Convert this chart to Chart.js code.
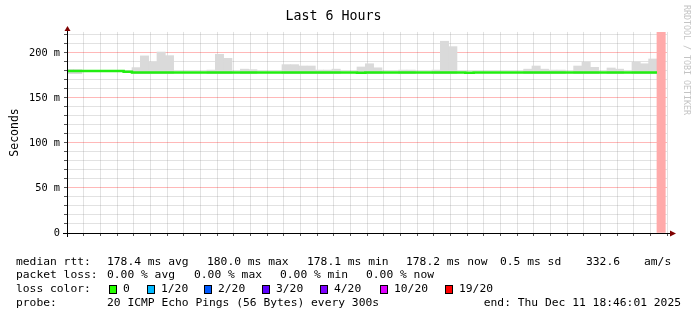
<!DOCTYPE html>
<html>
<head>
<meta charset="utf-8">
<script src="https://cdn.jsdelivr.net/npm/chart.js@4/dist/chart.umd.min.js"></script>
<style>
  html, body { margin: 0; padding: 0; background: #fff; }
  canvas { display: block; }
</style>
</head>
<body>
<canvas id="pingChart" width="697" height="321"></canvas>
<script>
// 5 minute bins (start of each bin)
const binTimes = [
  '12:45', '12:50', '12:55', '13:00', '13:05', '13:10', '13:15', '13:20', '13:25', '13:30', '13:35', '13:40',
  '13:45', '13:50', '13:55', '14:00', '14:05', '14:10', '14:15', '14:20', '14:25', '14:30', '14:35', '14:40',
  '14:45', '14:50', '14:55', '15:00', '15:05', '15:10', '15:15', '15:20', '15:25', '15:30', '15:35', '15:40',
  '15:45', '15:50', '15:55', '16:00', '16:05', '16:10', '16:15', '16:20', '16:25', '16:30', '16:35', '16:40',
  '16:45', '16:50', '16:55', '17:00', '17:05', '17:10', '17:15', '17:20', '17:25', '17:30', '17:35', '17:40',
  '17:45', '17:50', '17:55', '18:00', '18:05', '18:10', '18:15', '18:20', '18:25', '18:30', '18:35', '18:40'
];

// median rtt in ms
const medianRtt = [
  180.0, 180.0, 180.0, 180.0, 180.0, 180.0, 180.0, 179.2, 178.2, 178.2, 178.2, 178.2,
  178.2, 178.2, 178.2, 178.2, 178.2, 178.2, 178.2, 178.2, 178.2, 178.2, 178.2, 178.2,
  178.2, 178.2, 178.2, 178.2, 178.2, 178.2, 178.2, 178.2, 178.2, 178.2, 178.2, 178.1,
  178.2, 178.2, 178.2, 178.2, 178.2, 178.2, 178.2, 178.2, 178.2, 178.2, 178.2, 178.2,
  178.1, 178.2, 178.2, 178.2, 178.2, 178.2, 178.2, 178.2, 178.2, 178.2, 178.2, 178.2,
  178.2, 178.2, 178.2, 178.2, 178.2, 178.2, 178.2, 178.2, 178.2, 178.2, 178.2, null
];

// top of the smoke (slowest ping) in ms, null = nothing above the median
const smokeTop = [
  181.5, 181.5, null, null, null, null, null, null, 183.7, 196.7, 190.0, 201.0,
  197.0, null, null, null, null, 181.0, 198.5, 194.0, null, 182.0, 181.5, null,
  null, null, 187.0, 187.0, 185.5, 185.5, 181.0, 181.0, 182.0, null, null, 184.4,
  188.0, 183.5, null, null, 181.0, 181.0, null, null, 181.0, 213.0, 207.0, null,
  null, null, null, null, null, null, null, 182.0, 185.5, 182.0, 181.0, 181.0,
  null, 185.5, 190.0, 184.0, null, 183.3, 182.0, null, 190.0, 188.0, 193.3, null
];
const smokeFloor = 177;

const unknownBins = ['18:40'];

const rangeStart = '12:46:01';
const rangeEnd = '18:46:01';
const yMax = 223.3;

const statsRtt = ['median rtt:', '178.4 ms avg', '180.0 ms max', '178.1 ms min', '178.2 ms now', '0.5 ms sd', '332.6', 'am/s'];
const statsLoss = ['packet loss:', '0.00 % avg', '0.00 % max', '0.00 % min', '0.00 % now'];
const lossLabels = ['0', '1/20', '2/20', '3/20', '4/20', '10/20', '19/20'];
const lossColors = ['#26ff00', '#00b8ff', '#0059ff', '#5e00ff', '#7e00ff', '#dd00ff', '#ff0000'];
const probeText = ['probe:', '20 ICMP Echo Pings (56 Bytes) every 300s', 'end: Thu Dec 11 18:46:01 2025'];

const MONO = 'DejaVu Sans Mono';
const MGRID = 'rgba(255, 0, 0, 0.28)';
const GRID = 'rgba(140, 140, 140, 0.25)';
const BIN = 5;

function toMin(s) {
  const p = s.split(':').map(Number);
  return p[0] * 60 + p[1] + (p[2] || 0) / 60;
}
function fmtHour(v) {
  const h = Math.floor(v / 60), m = Math.round(v % 60);
  return String(h).padStart(2, '0') + ':' + String(m).padStart(2, '0');
}

const smokeData = [];
const lineData = [];
binTimes.forEach((t, i) => {
  const x = toMin(t);
  if (smokeTop[i] != null) smokeData.push({ x: x + BIN / 2, y: [smokeFloor, smokeTop[i]] });
  if (medianRtt[i] != null) lineData.push({ x: x, y: medianRtt[i] });
});
const lastPt = lineData[lineData.length - 1];
lineData.push({ x: lastPt.x + BIN, y: lastPt.y });

const unknownData = unknownBins.map(t => ({ x: toMin(t) + BIN / 2, y: [0, yMax] }));

const extras = {
  id: 'extras',
  afterDraw(chart) {
    const ctx = chart.ctx;
    const a = chart.chartArea;
    ctx.save();

    // axis extensions and arrows
    ctx.strokeStyle = '#000';
    ctx.lineWidth = 1;
    ctx.beginPath();
    ctx.moveTo(a.left - 4, a.bottom + 0.5); ctx.lineTo(a.right + 4, a.bottom + 0.5);
    ctx.moveTo(a.left + 0.5, a.bottom + 4); ctx.lineTo(a.left + 0.5, a.top - 2);
    ctx.stroke();
    ctx.fillStyle = '#7f0000';
    ctx.beginPath();
    ctx.moveTo(a.left + 0.5, a.top - 6); ctx.lineTo(a.left - 2.5, a.top - 1); ctx.lineTo(a.left + 3.5, a.top - 1);
    ctx.closePath(); ctx.fill();
    ctx.beginPath();
    ctx.moveTo(a.right + 9, a.bottom + 0.5); ctx.lineTo(a.right + 3, a.bottom - 2.5); ctx.lineTo(a.right + 3, a.bottom + 3.5);
    ctx.closePath(); ctx.fill();

    // watermark
    ctx.save();
    ctx.translate(686, 5);
    ctx.rotate(Math.PI / 2);
    ctx.font = '8.3px "' + MONO + '"';
    ctx.fillStyle = '#c4c4c4';
    ctx.textBaseline = 'middle';
    ctx.fillText('RRDTOOL / TOBI OETIKER', 0, 0);
    ctx.restore();

    // legend block
    ctx.font = '11.3px "' + MONO + '"';
    ctx.fillStyle = '#000';
    ctx.textBaseline = 'middle';
    const rttX = [16, 107, 207, 307, 406, 500, 586, 644];
    statsRtt.forEach((s, i) => ctx.fillText(s, rttX[i], 262));
    const lossX = [16, 107, 194, 280, 366];
    statsLoss.forEach((s, i) => ctx.fillText(s, lossX[i], 275.5));
    ctx.fillText('loss color:', 16, 289.5);
    const boxX = [109, 147, 204, 262, 320, 380, 445];
    lossLabels.forEach((s, i) => {
      ctx.fillStyle = lossColors[i];
      ctx.fillRect(boxX[i], 285.5, 7, 8);
      ctx.strokeStyle = '#000';
      ctx.strokeRect(boxX[i] + 0.5, 285.5, 7, 8);
      ctx.fillStyle = '#000';
      ctx.fillText(s, boxX[i] + 14, 289.5);
    });
    ctx.fillText(probeText[0], 16, 303);
    ctx.fillText(probeText[1], 107, 303);
    ctx.textAlign = 'right';
    ctx.fillText(probeText[2], 681, 303);
    ctx.restore();
  }
};

const gridColor = (ctx) => (ctx.tick && ctx.tick.value % 50 === 0 ? MGRID : GRID);
const xGridColor = (ctx) => (ctx.tick && ctx.tick.value % 60 === 0 ? MGRID : GRID);

new Chart(document.getElementById('pingChart'), {
  data: {
    datasets: [
      {
        type: 'line',
        label: 'median rtt',
        data: lineData,
        borderColor: '#22ee11',
        borderWidth: 2.5,
        pointRadius: 0,
        stepped: true,
        tension: 0,
        order: 0
      },
      {
        type: 'bar',
        label: 'unknown',
        data: unknownData,
        backgroundColor: '#ffaaaa',
        barPercentage: 1,
        categoryPercentage: 1,
        grouped: false,
        order: 1
      },
      {
        type: 'bar',
        label: 'smoke',
        data: smokeData,
        backgroundColor: '#dadada',
        barPercentage: 1,
        categoryPercentage: 1,
        grouped: false,
        order: 2
      }
    ]
  },
  options: {
    responsive: false,
    devicePixelRatio: 1,
    animation: false,
    layout: { padding: { left: 0, right: 30, top: 0, bottom: 0 } },
    plugins: {
      legend: { display: false },
      tooltip: { enabled: false },
      title: {
        display: true,
        text: 'Last 6 Hours',
        color: '#000',
        font: { family: MONO, size: 13.3, weight: 'normal', lineHeight: 1.2 },
        padding: { top: 9, bottom: 7 }
      }
    },
    scales: {
      x: {
        type: 'linear',
        offset: false,
        min: toMin(rangeStart),
        max: toMin(rangeEnd),
        afterFit: (s) => { s.height = 88; },
        border: { color: '#000' },
        grid: { offset: false, color: xGridColor, tickLength: 3, tickColor: '#555' },
        ticks: {
          stepSize: 10,
          includeBounds: false,
          autoSkip: false,
          maxRotation: 0,
          padding: 2,
          color: '#000',
          font: { family: MONO, size: 10.3 },
          callback: (v) => (v % 60 === 0 ? fmtHour(v) : '')
        }
      },
      y: {
        min: 0,
        max: yMax,
        afterFit: (s) => { s.width = 67; },
        border: { color: '#000' },
        grid: { color: gridColor, tickLength: 3, tickColor: '#555' },
        title: {
          display: true,
          text: 'Seconds',
          color: '#000',
          font: { family: MONO, size: 11.5 },
          padding: { top: 8, bottom: 0 }
        },
        ticks: {
          stepSize: 10,
          includeBounds: false,
          autoSkip: false,
          padding: 4,
          color: '#000',
          font: { family: MONO, size: 10.3 },
          callback: (v) => (v === 0 ? '0' : v % 50 === 0 ? v + ' m' : '')
        }
      }
    }
  },
  plugins: [extras]
});
</script>
</body>
</html>
